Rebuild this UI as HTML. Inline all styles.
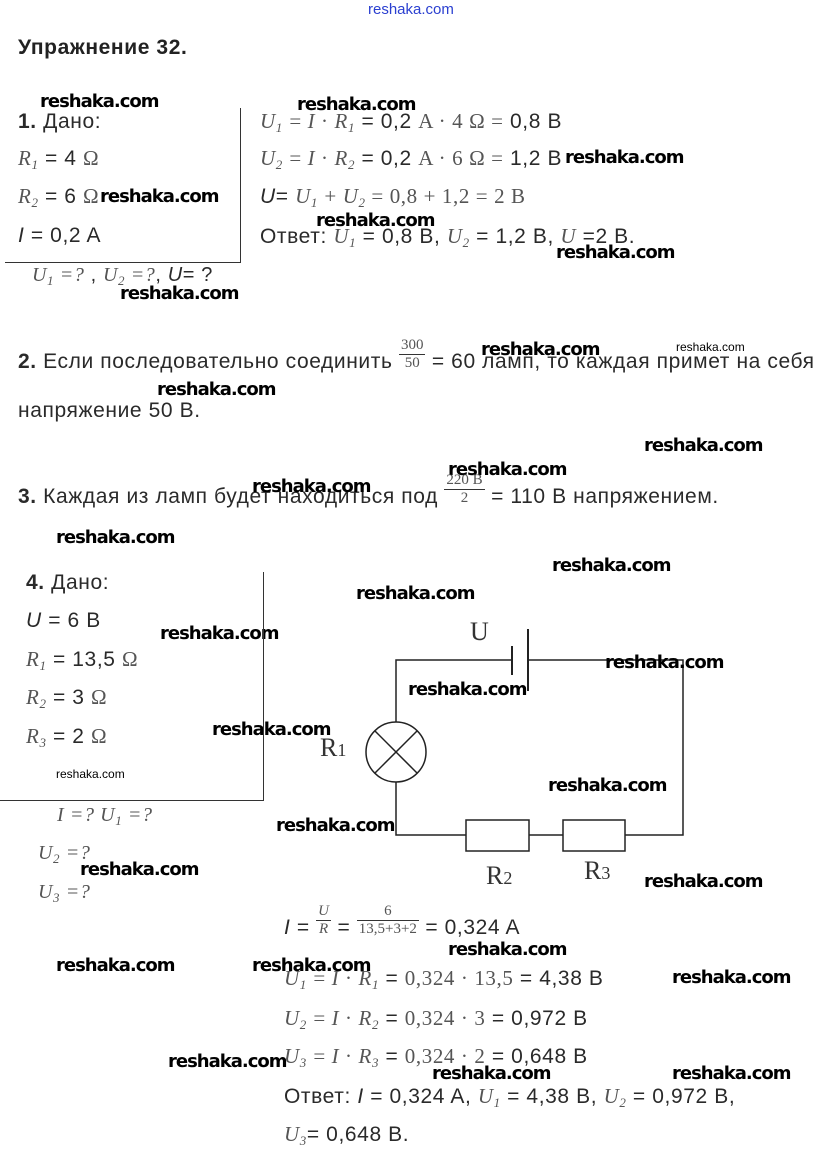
<!DOCTYPE html>
<html><head><meta charset="utf-8"><style>
body{margin:0;width:831px;height:1169px;background:#fff;position:relative;overflow:hidden;font-family:"Liberation Sans",sans-serif;color:#2a2a2a}
.t{position:absolute;font-size:21px;letter-spacing:0.6px;line-height:1;white-space:nowrap}
.w{position:absolute;font-size:18px;font-weight:bold;line-height:1;color:#000;white-space:nowrap;font-family:"DejaVu Sans","Liberation Sans",sans-serif;letter-spacing:-1px}
.m{font-family:"Liberation Serif",serif;font-style:italic;color:#555}
.s{font-family:"Liberation Serif",serif;color:#555}
sub{font-size:13px;vertical-align:-4px}
.fr{display:inline-block;vertical-align:middle;text-align:center;font-family:"Liberation Serif",serif;font-size:15px;color:#555;line-height:1.1;letter-spacing:0}
.fr span{display:block;padding:0 2px}
.fr span:first-child{border-bottom:1px solid #333}
</style></head><body>
<div class="t" style="left:368px;top:2px;font-size:15px;color:#2a3fd0;letter-spacing:0">reshaka.com</div>
<div class="t" style="left:18px;top:37px;font-weight:bold;color:#222">Упражнение 32.</div>

<div class="w" style="left:40px;top:93px">reshaka.com</div>
<div class="t" style="left:18px;top:111px"><b>1.</b> Дано:</div>
<div class="t" style="left:18px;top:148px"><span class="m">R<sub>1</sub></span> = 4 <span class="s">Ω</span></div>
<div class="t" style="left:18px;top:186px"><span class="m">R<sub>2</sub></span> = 6 <span class="s">Ω</span></div>
<div class="w" style="left:100px;top:188px">reshaka.com</div>
<div class="t" style="left:18px;top:225px"><i>I</i> = 0,2 A</div>
<div style="position:absolute;left:240px;top:108px;width:1px;height:154px;background:#333"></div>
<div style="position:absolute;left:5px;top:262px;width:236px;height:1px;background:#333"></div>
<div class="t" style="left:32px;top:265px;font-size:20px"><span class="m">U<sub>1</sub> =?</span> , <span class="m">U<sub>2</sub> =?</span>, <i>U</i>= ?</div>
<div class="w" style="left:120px;top:285px">reshaka.com</div>

<div class="w" style="left:297px;top:96px">reshaka.com</div>
<div class="t" style="left:260px;top:111px"><span class="m">U<sub>1</sub></span> <span class="s">= </span><span class="m">I</span><span class="s"> · </span><span class="m">R<sub>1</sub></span> = 0,2 <span class="s">A · 4 Ω =</span> 0,8 B</div>
<div class="t" style="left:260px;top:148px"><span class="m">U<sub>2</sub></span> <span class="s">= </span><span class="m">I</span><span class="s"> · </span><span class="m">R<sub>2</sub></span> = 0,2 <span class="s">A · 6 Ω =</span> 1,2 B</div>
<div class="w" style="left:565px;top:149px">reshaka.com</div>
<div class="t" style="left:260px;top:186px"><i>U</i>= <span class="m">U<sub>1</sub></span> <span class="s">+ </span><span class="m">U<sub>2</sub></span><span class="s"> = 0,8 + 1,2 = 2 B</span></div>
<div class="w" style="left:316px;top:212px">reshaka.com</div>
<div class="t" style="left:260px;top:226px">Ответ: <span class="m">U<sub>1</sub></span> = 0,8 B, <span class="m">U<sub>2</sub></span> = 1,2 B, <span class="m">U</span> =2 B.</div>
<div class="w" style="left:556px;top:244px">reshaka.com</div>

<div class="t" style="left:18px;top:351px"><b>2.</b> Если последовательно соединить <span class="fr" style="margin-top:-16px"><span>300</span><span>50</span></span> = 60 ламп, то каждая примет на себя</div>
<div class="w" style="left:481px;top:341px">reshaka.com</div>
<div class="t" style="left:676px;top:341px;font-size:12px;color:#000;letter-spacing:0">reshaka.com</div>
<div class="w" style="left:157px;top:381px">reshaka.com</div>
<div class="t" style="left:18px;top:400px">напряжение 50 В.</div>
<div class="w" style="left:644px;top:437px">reshaka.com</div>
<div class="w" style="left:448px;top:461px">reshaka.com</div>
<div class="t" style="left:18px;top:486px"><b>3.</b> Каждая из ламп будет находиться под <span class="fr" style="margin-top:-16px"><span>220 B</span><span>2</span></span> = 110 В напряжением.</div>
<div class="w" style="left:252px;top:478px">reshaka.com</div>
<div class="w" style="left:56px;top:529px">reshaka.com</div>
<div class="w" style="left:552px;top:557px">reshaka.com</div>

<div class="t" style="left:26px;top:572px"><b>4.</b> Дано:</div>
<div class="w" style="left:356px;top:585px">reshaka.com</div>
<div class="t" style="left:26px;top:610px"><i>U</i> = 6 B</div>
<div class="w" style="left:160px;top:625px">reshaka.com</div>
<div class="t" style="left:26px;top:649px"><span class="m">R<sub>1</sub></span> = 13,5 <span class="s">Ω</span></div>
<div class="t" style="left:26px;top:687px"><span class="m">R<sub>2</sub></span> = 3 <span class="s">Ω</span></div>
<div class="w" style="left:212px;top:721px">reshaka.com</div>
<div class="t" style="left:26px;top:726px"><span class="m">R<sub>3</sub></span> = 2 <span class="s">Ω</span></div>
<div class="t" style="left:56px;top:768px;font-size:12px;color:#000;letter-spacing:0">reshaka.com</div>
<div style="position:absolute;left:263px;top:572px;width:1px;height:228px;background:#333"></div>
<div style="position:absolute;left:0px;top:800px;width:264px;height:1px;background:#333"></div>
<div class="t" style="left:57px;top:805px;font-size:20px"><span class="m">I =? U<sub>1</sub> =?</span></div>
<div class="t" style="left:38px;top:843px;font-size:20px"><span class="m">U<sub>2</sub> =?</span></div>
<div class="t" style="left:38px;top:882px;font-size:20px"><span class="m">U<sub>3</sub> =?</span></div>
<div class="w" style="left:276px;top:817px">reshaka.com</div>
<div class="w" style="left:80px;top:861px">reshaka.com</div>

<svg style="position:absolute;left:0;top:0" width="831" height="1169">
<g stroke="#222" stroke-width="1.5" fill="none">
<path d="M396 722 V660 H512 M528 660 H683 V835 H625 M563 835 H529 M466 835 H396 V782"/>
<line x1="512" y1="646" x2="512" y2="675" stroke-width="2"/>
<line x1="528" y1="629" x2="528" y2="691" stroke-width="2"/>
<circle cx="396" cy="752" r="30"/>
<line x1="375" y1="731" x2="417" y2="773"/><line x1="417" y1="731" x2="375" y2="773"/>
<rect x="466" y="820" width="63" height="31"/>
<rect x="563" y="820" width="62" height="31"/>
</g>
<g font-family="Liberation Serif,serif" fill="#333" font-size="26">
<text x="470" y="640">U</text>
<text x="320" y="756">R<tspan font-size="18">1</tspan></text>
<text x="486" y="884">R<tspan font-size="18">2</tspan></text>
<text x="584" y="879">R<tspan font-size="18">3</tspan></text>
</g>
</svg>
<div class="w" style="left:408px;top:681px">reshaka.com</div>
<div class="w" style="left:605px;top:654px">reshaka.com</div>
<div class="w" style="left:548px;top:777px">reshaka.com</div>
<div class="w" style="left:644px;top:873px">reshaka.com</div>

<div class="t" style="left:284px;top:917px"><i>I</i> = <span class="fr" style="margin-top:-16px;font-style:italic"><span>U</span><span>R</span></span> = <span class="fr" style="margin-top:-16px"><span>6</span><span>13,5+3+2</span></span> = 0,324 A</div>
<div class="w" style="left:448px;top:941px">reshaka.com</div>
<div class="w" style="left:56px;top:957px">reshaka.com</div>
<div class="w" style="left:252px;top:957px">reshaka.com</div>
<div class="w" style="left:672px;top:969px">reshaka.com</div>
<div class="t" style="left:284px;top:968px"><span class="m">U<sub>1</sub></span> <span class="s">= </span><span class="m">I</span><span class="s"> · </span><span class="m">R<sub>1</sub></span> = <span class="s">0,324 · 13,5</span> = 4,38 B</div>
<div class="t" style="left:284px;top:1008px"><span class="m">U<sub>2</sub></span> <span class="s">= </span><span class="m">I</span><span class="s"> · </span><span class="m">R<sub>2</sub></span> = <span class="s">0,324 · 3</span> = 0,972 B</div>
<div class="t" style="left:284px;top:1046px"><span class="m">U<sub>3</sub></span> <span class="s">= </span><span class="m">I</span><span class="s"> · </span><span class="m">R<sub>3</sub></span> = <span class="s">0,324 · 2</span> = 0,648 B</div>
<div class="w" style="left:168px;top:1053px">reshaka.com</div>
<div class="w" style="left:432px;top:1065px">reshaka.com</div>
<div class="w" style="left:672px;top:1065px">reshaka.com</div>
<div class="t" style="left:284px;top:1086px">Ответ: <i>I</i> = 0,324 A, <span class="m">U<sub>1</sub></span> = 4,38 B, <span class="m">U<sub>2</sub></span> = 0,972 B,</div>
<div class="t" style="left:284px;top:1124px"><span class="m">U<sub>3</sub></span>= 0,648 B.</div>
</body></html>
